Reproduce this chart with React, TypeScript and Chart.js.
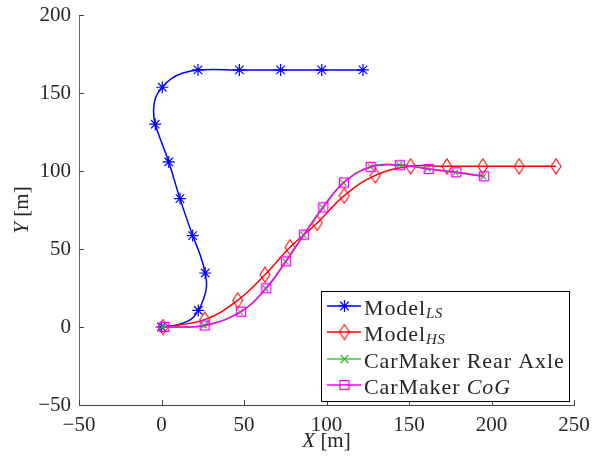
import React, { useEffect, useRef } from "react";
import { Chart, registerables } from "chart.js";
Chart.register(...registerables);

// ---- data (meters) ----
const lsPathX = [0, 10, 18, 22.3, 25.5, 27.3, 26.5, 23.5, 18.9, 11.2, 4.4, -3.8, -4.8, -3.6, 0.5, 6, 13, 22.1, 47.2, 72.2, 97.1, 122.1];
const lsPathY = [0, 1.5, 5, 10.6, 18, 26, 34.6, 46, 58.6, 82.3, 105.8, 130, 138, 147, 153.7, 159.2, 162.8, 164.8, 164.8, 164.8, 164.8, 164.8];
const lsMarkX = [0, 22.3, 26.5, 18.9, 11.2, 4.4, -3.8, 0.5, 22.1, 47.2, 72.2, 97.1, 122.1];
const lsMarkY = [0, 10.6, 34.6, 58.6, 82.3, 105.8, 130, 153.7, 164.8, 164.8, 164.8, 164.8, 164.8];

const hsX = [1, 26.2, 46.2, 62.7, 77.9, 94.4, 110.8, 129.6, 151, 173, 194.8, 216.8, 239.1];
const hsY = [0, 4.7, 17.1, 33.5, 51.1, 66.7, 84.2, 97.2, 103, 103, 103, 103, 103];

const raX = [0.5, 25.8, 47.6, 63.1, 75.2, 86.1, 97.6, 110.2, 126.6, 144.2, 161.4, 178.2, 195.1];
const raY = [0, 1, 9.6, 24.6, 42, 59, 76.6, 92.5, 102.8, 104, 101.5, 99, 96.4];

const cogX = [1.7, 26.2, 48.2, 63.5, 75.5, 86.4, 98.1, 110.6, 126.8, 144.5, 161.9, 178.7, 195.5];
const cogY = [0, 1, 9.8, 24.8, 42.1, 59.2, 76.7, 92.6, 102.6, 103.7, 101.3, 99.2, 96.6];

const xTicks = [-50, 0, 50, 100, 150, 200, 250];
const yTicks = [-50, 0, 50, 100, 150, 200];

const legendLabels = [
  { main: "Model", sub: "LS", italic: "" },
  { main: "Model", sub: "HS", italic: "" },
  { main: "CarMaker Rear Axle", sub: "", italic: "" },
  { main: "CarMaker ", sub: "", italic: "CoG" },
];

const BLUE = "#0000ff";
const RED = "#ff0000";
const GREEN = "#22c022";
const MAGENTA = "#ff00ff";
const FONT = "'Liberation Serif', 'Times New Roman', serif";

const zip = (xs: number[], ys: number[]) => xs.map((x, i) => ({ x, y: ys[i] }));
const fmt = (v: number) => (v < 0 ? "\u2212" + Math.abs(v) : String(v));

function makeDiamond(color: string) {
  const c = document.createElement("canvas");
  c.width = 12;
  c.height = 17;
  const g = c.getContext("2d")!;
  g.strokeStyle = color;
  g.lineWidth = 1.1;
  g.beginPath();
  g.moveTo(6, 1);
  g.lineTo(11, 8.5);
  g.lineTo(6, 16);
  g.lineTo(1, 8.5);
  g.closePath();
  g.stroke();
  return c;
}
function makeSquare(color: string) {
  const c = document.createElement("canvas");
  c.width = 12;
  c.height = 12;
  const g = c.getContext("2d")!;
  g.strokeStyle = color;
  g.lineWidth = 1.3;
  g.strokeRect(1.5, 1.5, 9, 9);
  return c;
}

function drawStar(ctx: CanvasRenderingContext2D, x: number, y: number, r: number, color: string) {
  ctx.save();
  ctx.strokeStyle = color;
  ctx.lineWidth = 1.2;
  ctx.beginPath();
  ctx.moveTo(x - r, y); ctx.lineTo(x + r, y);
  ctx.moveTo(x, y - r); ctx.lineTo(x, y + r);
  const d = r * Math.SQRT1_2;
  ctx.moveTo(x - d, y - d); ctx.lineTo(x + d, y + d);
  ctx.moveTo(x - d, y + d); ctx.lineTo(x + d, y - d);
  ctx.stroke();
  ctx.restore();
}
function drawX(ctx: CanvasRenderingContext2D, x: number, y: number, r: number, color: string) {
  ctx.save();
  ctx.strokeStyle = color;
  ctx.lineWidth = 1.2;
  ctx.beginPath();
  ctx.moveTo(x - r, y - r); ctx.lineTo(x + r, y + r);
  ctx.moveTo(x - r, y + r); ctx.lineTo(x + r, y - r);
  ctx.stroke();
  ctx.restore();
}

export default function App() {
  const ref = useRef<HTMLCanvasElement>(null);
  useEffect(() => {
    const diamond = makeDiamond(RED);
    const square = makeSquare(MAGENTA);

    const overlay = {
      id: "overlay",
      afterDraw(chart: any) {
        const ctx: any = chart.ctx;
        const xs = chart.scales.x;
        const ys = chart.scales.y;
        const a = chart.chartArea;
        ctx.save();
        // inward ticks
        ctx.lineWidth = 1;
        ctx.strokeStyle = "#444";
        ctx.beginPath();
        xTicks.forEach((v) => {
          const px = Math.round(xs.getPixelForValue(v)) + 0.5;
          ctx.moveTo(px, a.bottom);
          ctx.lineTo(px, a.bottom - 5);
        });
        yTicks.forEach((v) => {
          const py = Math.round(ys.getPixelForValue(v)) + 0.5;
          ctx.moveTo(a.left, py);
          ctx.lineTo(a.left + 5, py);
        });
        ctx.stroke();

        // axis titles
        ctx.fillStyle = "#262626";
        ctx.textBaseline = "middle";
        const it = `italic 21px ${FONT}`;
        const up = `21px ${FONT}`;
        ctx.font = it;
        const wX = ctx.measureText("X").width;
        ctx.font = up;
        const wR = ctx.measureText(" [m]").width;
        const cx = (a.left + a.right) / 2;
        let sx = cx - (wX + wR) / 2;
        ctx.font = it;
        ctx.textAlign = "left";
        ctx.fillText("X", sx, 441);
        ctx.font = up;
        ctx.fillText(" [m]", sx + wX, 441);
        ctx.save();
        ctx.translate(22, (a.top + a.bottom) / 2);
        ctx.rotate(-Math.PI / 2);
        ctx.font = it;
        const wY = ctx.measureText("Y").width;
        sx = -(wY + wR) / 2;
        ctx.fillText("Y", sx, 0);
        ctx.font = up;
        ctx.fillText(" [m]", sx + wY, 0);
        ctx.restore();

        // legend
        const L = 321.5, T = 291.5, W = 248, H = 110;
        ctx.fillStyle = "#fff";
        ctx.fillRect(L, T, W, H);
        ctx.strokeStyle = "#000";
        ctx.lineWidth = 1;
        ctx.strokeRect(L, T, W, H);
        const rows = [306, 332, 359, 385];
        const colors = [BLUE, RED, "#44c444", MAGENTA];
        rows.forEach((ry, i) => {
          ctx.strokeStyle = colors[i];
          ctx.lineWidth = 1.4;
          ctx.beginPath();
          ctx.moveTo(327, ry);
          ctx.lineTo(361, ry);
          ctx.stroke();
          const mx = 344.5;
          if (i === 0) drawStar(ctx, mx, ry, 6, BLUE);
          if (i === 1) ctx.drawImage(diamond, mx - 6, ry - 8.5);
          if (i === 2) drawX(ctx, mx, ry, 4, GREEN);
          if (i === 3) ctx.drawImage(square, mx - 6, ry - 6);
          const lab = legendLabels[i];
          ctx.fillStyle = "#262626";
          ctx.textAlign = "left";
          ctx.textBaseline = "alphabetic";
          ctx.font = `22px ${FONT}`;
          ctx.letterSpacing = "0.9px";
          let tx = 364;
          const by = ry + 8.5;
          ctx.fillText(lab.main, tx, by);
          tx += ctx.measureText(lab.main).width;
          if (lab.sub) {
            ctx.font = `italic 15px ${FONT}`;
            ctx.letterSpacing = "0.5px";
            ctx.fillText(lab.sub, tx, by + 3);
          }
          if (lab.italic) {
            ctx.font = `italic 22px ${FONT}`;
            ctx.fillText(lab.italic, tx, by);
          }
          ctx.letterSpacing = "0px";
        });
        ctx.restore();
      },
    };

    const chart = new Chart(ref.current!, {
      type: "scatter",
      data: {
        datasets: [
          { order: 4, data: zip(lsPathX, lsPathY), showLine: true, borderColor: BLUE, borderWidth: 1.5, pointRadius: 0, tension: 0.4, fill: false },
          { order: 3, data: zip(lsMarkX, lsMarkY), showLine: false, pointStyle: "star", pointRadius: 6, borderColor: BLUE, borderWidth: 1.2, backgroundColor: BLUE },
          { order: 2, data: zip(hsX, hsY), showLine: true, borderColor: RED, borderWidth: 1.5, tension: 0.4, pointStyle: diamond, pointRadius: 6, fill: false },
          { order: 1, data: zip(raX, raY), showLine: true, borderColor: GREEN, borderWidth: 1.5, tension: 0.4, pointStyle: "crossRot", pointRadius: 4, pointBorderWidth: 1.2, fill: false },
          { order: 0, data: zip(cogX, cogY), showLine: true, borderColor: MAGENTA, borderWidth: 1.5, tension: 0.4, pointStyle: square, pointRadius: 6, fill: false },
        ],
      },
      options: {
        responsive: false,
        animation: false,
        events: [],
        layout: { padding: { left: 0, right: 24, top: 15, bottom: 0 } },
        plugins: { legend: { display: false }, tooltip: { enabled: false } },
        scales: {
          x: {
            type: "linear",
            min: -50,
            max: 250,
            afterBuildTicks: (s: any) => { s.ticks = xTicks.map((v) => ({ value: v })); },
            afterFit: (s: any) => { s.height = 54; s.paddingLeft = 0; s.paddingRight = 0; },
            grid: { display: false, drawTicks: false },
            border: { display: true, color: "#444", width: 1 },
            ticks: { color: "#262626", font: { family: FONT, size: 21 }, padding: 8, maxRotation: 0, callback: (v: any) => fmt(Number(v)) },
          },
          y: {
            type: "linear",
            min: -50,
            max: 200,
            afterBuildTicks: (s: any) => { s.ticks = yTicks.map((v) => ({ value: v })); },
            afterFit: (s: any) => { s.width = 79; s.paddingTop = 0; s.paddingBottom = 0; },
            grid: { display: false, drawTicks: false },
            border: { display: true, color: "#666", width: 1 },
            ticks: { color: "#262626", font: { family: FONT, size: 21 }, padding: 8, callback: (v: any) => fmt(Number(v)) },
          },
        },
      },
      plugins: [overlay],
    } as any);
    return () => chart.destroy();
  }, []);
  return (
    <div style={{ position: "fixed", left: 0, top: 0, width: 598, height: 459, background: "#fff" }}>
      <canvas ref={ref} width={598} height={459} style={{ display: "block" }} />
    </div>
  );
}
